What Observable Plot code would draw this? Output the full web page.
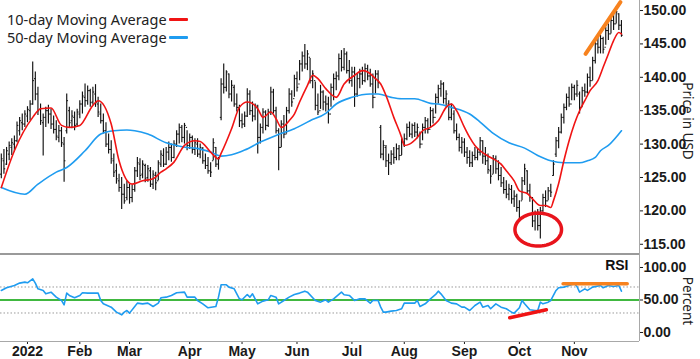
<!DOCTYPE html>
<html><head><meta charset="utf-8">
<script src="https://cdn.jsdelivr.net/npm/d3@7"></script>
<script src="https://cdn.jsdelivr.net/npm/@observablehq/plot@0.6"></script>
<style>
body{margin:0;background:#fff;}
#wrap{position:relative;width:700px;height:359px;overflow:hidden;background:#fff;}
#wrap svg{display:block;}
.leg{position:absolute;left:7px;font:14.5px "Noto Sans",sans-serif;color:#222;display:flex;align-items:center;white-space:nowrap;}
.sw{display:inline-block;width:19px;height:3px;margin-left:2px;border-radius:1px;}
.ttl{position:absolute;font:13.5px "Noto Sans",sans-serif;color:#222;transform:translate(-50%,-50%) rotate(90deg);white-space:nowrap;}
.sep{position:absolute;left:0;width:639px;height:2px;background:#9a9a9a;}
</style></head><body><div id="wrap"></div>
<script>
// ---- price data (trading-day index 0 = mid Dec 2021) ----
const high = [128.5,129.2,129.5,130.3,130.8,131.2,133.3,134,134.5,135,135.6,136.5,142.3,140.8,138.5,136,134.5,135.5,135.8,135.2,134.2,133.5,132.8,132.5,131,137.5,135.5,135,134.8,135.2,136.5,137.8,139,138.7,138.2,138.5,138.9,137,136,134.5,133.2,131.5,130.5,128.5,127,125.5,125,124,124.5,124,123.8,126.5,128,127.8,127.5,127,126.8,126.5,126,125.8,127.5,129,129.3,129.5,130.3,130,130.5,132,133,132.8,133.1,132,131.5,131.2,130.8,130.8,130,129.5,128.5,128,127.2,130.8,129.5,128,139.8,142,141,140.5,139.5,138.8,137.5,135.8,134.5,134.8,138.3,138,136.3,136,135.8,133,135.3,135,135.2,138.5,138.2,135.5,132.3,133.5,134.3,135.5,138.3,138,140.3,140.8,142.5,143.8,144.9,144,142.8,141,139.3,137.5,138.8,138,137.2,137,139,140.5,140.8,143.5,144,144.3,143.8,142.5,141.5,141.5,140.5,141.2,141.5,142,141.8,141.2,140.5,141,141,132.8,130.5,129.8,128.5,129,129.5,130,129.8,130.8,131.5,133,133.3,133,133.2,133,131.8,133,134,133.8,135.5,135.3,137.5,138.8,139.5,139.2,138,136.5,136,135,133,131.5,131,130.8,129.5,129,128.8,129.5,129.3,131,130.5,129.5,128.5,126.8,128.3,128.2,127.5,126.5,125,124.5,124,123.8,123,122.5,121.5,125,127,126,124,122,120,120.2,120.5,122.5,123,123.5,124,127.5,131,132.5,134.5,136,137.5,138.5,139,138.8,139.5,137.8,138.5,139,140.5,141.5,143,145.5,146.5,146.3,146,147.5,148,149,149.5,150.5,149.5,148.5];
const low = [124.8,125.5,126.8,127.5,128.3,128.8,130.2,131.2,132,132.5,133.2,133.5,135.8,136.5,134.3,132.8,128.2,132.5,133,132.2,131.5,130.5,130.2,129.5,124.3,131.5,132.5,132.3,132,132.5,133.8,134.5,135.5,135.8,135.5,135.8,135.5,134,133,131.5,129.5,128.5,127,125,124,122.8,120.2,121,121.5,121,121.2,122.8,125,124.5,124.8,124.2,124.3,123.5,123.2,123,124.5,126.5,126.5,126.8,127.5,127.3,127.8,129.5,130,130.2,130,129,129.2,128.5,128.3,128,127.8,127,126.2,125.5,125,127.5,126.5,126.1,133.5,137.5,137.8,136.8,136.3,135.5,134.8,132.5,132.3,132.5,134,134.3,133.3,133.5,128.5,130,131.5,132,132.5,134.3,134.5,131.5,126,129.5,130.8,131.5,134.5,135.5,137,137.8,139.5,140.8,141.2,141,139,138.3,135,134.3,135.2,135,134.8,133,135.5,136.5,138,139.5,140.8,141,140.5,139,138.5,135.5,137,138.3,138.8,139.2,139.5,138.5,135.3,137.5,138.3,127.8,127.5,126.5,125.3,126.8,127,127.5,127.5,128.3,129.5,130.5,131,130.8,131,130.8,129.3,130.5,131.5,131.5,132.5,133,134.5,136,137,136,135.5,133.5,133.5,131.5,130.5,128.8,128.5,128,127,126.5,126.5,127.5,127.5,128.2,127,126.8,125.5,124,125.5,125.5,124.5,123.5,122.5,121.8,121.5,121,120.5,119.8,118.5,121.5,123.8,122.5,121.3,117.5,117,117,115.8,119.8,120.5,121.5,122,125.2,128,129.3,131.5,133,135,135.5,136.5,136.5,137,134.5,135.5,137,137.5,138.5,139.5,142,143.5,143.5,143.5,144.8,145.5,146.5,147,148,147,146];
const open = [125.5,127.5,127,128.5,129.5,130,130.5,132,133.2,133,134.2,135,136,139.8,137.5,135.2,133.2,134,135,134.5,133,132.2,131,132,130,132,135,133.5,134,133,134.5,136,137,136.5,138,136.3,137.5,136,134.5,133.5,132,130,129.2,127.5,126,124.5,123.5,122.5,122,123.5,122,123.2,126,127,125.5,126.8,125,126,124,125.3,124.5,127,128.3,127,128.8,129.5,128,130,131.5,132.5,131,132.5,129.8,131,129.2,130,128.5,129.3,127.5,126.8,126,127.5,129.5,127,134,139,138.5,140.5,137.5,138.5,136,135.5,133.5,133,134.2,137.5,135,134.2,135.5,131,132.5,134.8,132.8,134.8,137.8,135,132,129.5,133,131.5,135,137.5,136.8,139.8,139,142,143.2,142,143,139.5,139.5,135.8,135,137.8,136.3,136,134.5,138.5,139.8,140.2,142.8,141.5,143.5,141,139.5,140.8,137.5,139.8,140.5,139.5,141.3,140.2,139,137,140.5,132.5,128.5,129.5,127.5,127.2,128.5,128,129.3,128.3,130.3,130.8,132.5,131.5,132.8,131.8,131.5,130,132.5,133.5,132.2,135,134,137,138.3,139,136.8,136,134,134.5,132,131,129.5,130.3,128.8,128,127.2,128.3,128,128.8,130.5,128.2,127.5,126,125.5,127.8,126.3,125.3,124.2,123.2,122.5,123.2,121.8,122.2,120.5,121.5,124.5,126,123,122,118.5,119.5,117.8,120,122,121.5,123,125.3,128.5,130.5,131.8,134,135.5,137,136,138.5,137.5,137.5,135.5,138,137.8,140,139.5,142.5,145,144.5,145.8,144.5,147,146.5,148.5,148,149.5,147.8];
const close = [127.8,126.3,129,129.8,130.2,130.5,132.8,133.5,133,134.5,135.2,136,139.5,137.5,135,133.5,134,135,134.5,133,132.2,131.2,132,130.2,127.5,136.5,133.2,134.2,132.8,134.8,136,137.2,136.5,138,136.2,137.8,136.2,134.8,133.5,132,130,129.2,127.8,125.8,124.8,123.5,122.5,121.5,123.5,122,123.2,126,127.2,125.3,127,124.8,126.3,124,125.5,124.2,127.2,128.5,127,128.8,129.5,128,130,131.5,132.5,131,132.8,129.8,131,129.2,130.2,128.5,129.5,127.5,126.8,126,125.8,130.2,127,127.8,139,138.5,140.8,137.5,138.8,136,135.5,133.5,133,134.2,137.5,135,134.2,135.8,131,132.5,134.8,132.8,134.8,137.8,135,132,129.5,133,131.5,135,137.5,136.3,139.8,138.5,142,143.2,142,143.5,139.5,140.5,135.8,134.8,137.8,136.3,136,134.5,138.5,139.8,140.2,142.8,141.5,143.5,141,139.5,140.8,137.5,139.8,140.5,139.5,141.3,140.2,139,137,140.5,139.2,128.5,129.8,127.5,127.2,128.5,128,129.3,128.3,130.3,130.8,132.5,131.5,132.8,131.8,132.5,130,132.5,133.5,132.2,135,134,137,138.3,139,136.8,137.5,134,135.5,132,131,129.5,130.3,128.8,128,127.2,128.3,128,128.8,130.5,128.2,127.5,126.2,125.2,127.8,126.3,125.3,124.2,123.2,122.5,123.3,121.8,122.2,120.5,119,124.5,126.3,123,122,118.5,119.5,117.8,120,122,121.5,123,122.8,127,130.5,131.8,134,135.5,137,136,138.5,137.5,138.8,135.5,138,137.8,140,139.5,142.5,145,144.5,145.8,144.2,147,146.5,148.5,148,149.8,147.8,146.3];

// ---- moving averages (day index, value) ----
const ma10Day = [0,5,12,15,19,23,26,30,35,37,42,45,50,54,58,61,63,66,70,74,76,80,83,84,88,91,94,98,100,103,105,107,110,112,114,117,119,121,124,128,131,135,138,140,143,145,147,150,153,154,156,159,161,164,167,170,172,174,177,179,181,183,187,191,193,196,198,201,203,206,208,210,211,213,215,217,219,221,223,225,228,230,232,234,236,237];
const ma10Val = [123.5,129,134,135.3,135.4,132.8,132.5,132.8,135.8,136.5,133,127.5,124,124.5,124.8,125.8,126.3,127.3,129.8,130.5,130.4,128.8,127.8,128.6,132.3,135.5,136.3,135.3,134,134.8,133.8,132.5,133.5,134.5,136.3,138.8,140.3,139.8,138.3,137,139,140.3,141,140.8,139.8,139,137.3,134,131,129.8,130,131,132,132.5,133.5,135.5,136,135,132.5,131,129.8,129,128,127,126,124.5,123,122.6,121.8,120.8,120.8,120.5,121.5,124.1,127.5,130.5,133,135,136.5,138,139.5,141.5,143.5,145.5,146.7,146.5];
const ma50Day = [0,9,14,21,25,32,38,43,48,51,56,63,67,71,74,80,84,88,93,99,105,112,118,124,128,134,141,144,149,153,158,164,167,172,179,183,188,194,200,205,210,215,221,224,227,229,232,237];
const ma50Val = [123.5,122.5,124,125.8,126.5,129,131.5,132,132.1,132,131.5,130.2,129.8,129.5,129.4,128.8,128.2,128.4,129.1,130.3,131.3,132.3,133.5,134.6,136,137,137.5,137.5,137,136.8,136.8,136.1,136,135.5,134.5,133.3,131.6,130.2,129.4,128.3,127.5,127.2,127.2,127.5,128,129,129.8,132];

// ---- RSI ----
const rsiDay = [0,2,5,7,9,10,12,13,14,16,17,19,21,23,24,25,26,28,30,31,33,35,37,38,39,42,44,46,47,48,49,51,52,54,56,58,60,61,63,65,67,70,71,74,75,77,79,82,83,84,86,87,89,91,92,94,95,96,98,100,102,103,105,106,108,110,112,114,116,117,120,122,124,125,127,130,131,133,135,137,139,141,142,144,145,146,147,149,151,153,154,156,158,159,160,162,164,166,167,168,170,172,174,176,177,179,181,183,184,186,187,189,191,193,195,196,198,199,200,202,204,205,206,207,209,210,212,213,215,217,219,220,221,223,224,226,229,230,232,234,236,237];
const rsiVal = [64.7,68.8,72.3,76,77.5,76.5,82.6,76,67.2,64.7,59.5,62,54.4,49.3,42.6,60.6,57,53.4,57,61.1,60.6,60.6,60.6,49.3,44.1,39,31.3,27.2,31.3,33.9,29.8,40,45.2,44.1,45.2,40,45.2,53.4,54.4,57,61.1,62.1,54.4,54.4,49.3,44.1,38,40,54.4,73.4,73.4,69.8,67.2,51.8,50.3,58.5,54.4,59.5,44.1,48.3,50.3,57,54.4,44.1,49.3,54.4,58.5,60.6,63.6,62.1,49.3,46.7,50.3,46.7,51.8,62.1,58,57,49.3,51.8,51.8,45.2,49.3,49.3,39,31.3,31.3,32.9,33.9,36.5,45.2,45.2,45.2,49.3,40,44.1,51.8,58.5,63.6,59.5,49.3,45.2,44.1,39,39,33.9,41.6,46.7,39,41.6,36.5,44.1,39,36.5,31.3,29.8,38,49.3,44.1,35,33.9,33.9,46.7,44.1,46.7,49.3,64.7,68.8,69.8,72.3,74.9,70.8,62.1,67.2,64.7,69.8,72.3,68.8,72.3,70.8,72.3,63.6];

// ---- axes ----
const priceTicks = [115,120,125,130,135,140,145,150];
const rsiTicks = [0,50,100];
const rsiLevels = [30,70];
const rsiMid = 50;
const monthDay = [10,30,49,72,92,113,134,154,177,198,219];
const monthLabel = ["2022","Feb","Mar","Apr","May","Jun","Jul","Aug","Sep","Oct","Nov"];

// ---- annotations (data units) ----
const priceTrendDay = [223.3,236.6], priceTrendVal = [143.5,151.25];
const rsiLowDay = [194.3,208.3], rsiLowVal = [22.6,34.9];
const rsiHighDay = [214.7,239.2], rsiHighVal = [74.9,74.9];
const ring = {day:205.2, price:117.2, rDay:8.9, rPrice:2.47};

const RED = "#f01414", BLUE = "#1f9cf0", ORANGE = "#f7821e", INK = "#111";
const xDomain = [-0.31, 243.9];

const bars = close.map((c,i) => ({i, o:open[i], h:high[i], l:low[i], c}));
const pairs = (a,b) => a.map((d,k)=>({d, v:b[k]}));
const ringPts = d3.range(0, 361, 5).map(a => ({d: ring.day + ring.rDay*Math.cos(a*Math.PI/180), v: ring.price + ring.rPrice*Math.sin(a*Math.PI/180)}));

const axisStyle = {fontFamily:"'Liberation Sans', Arial, sans-serif", fontSize:"14px", fontWeight:"bold", color:"#1a1a1a", background:"transparent"};

const main = Plot.plot({
  width:700, height:254, marginLeft:0, marginRight:61, marginTop:0, marginBottom:0,
  style: axisStyle,
  x:{domain:xDomain, axis:null},
  y:{domain:[113.47,151.5], axis:"right", ticks:priceTicks, tickFormat:d=>d.toFixed(2), tickSize:3, tickPadding:1, label:null},
  marks:[
    Plot.ruleX([xDomain[1]], {stroke:"#a8a8a8"}),
    Plot.ruleX(bars, {x:"i", y1:"l", y2:"h", stroke:INK, strokeWidth:1.15}),
    Plot.link(bars, {x1:d=>d.i-0.5, x2:"i", y1:"o", y2:"o", stroke:INK}),
    Plot.link(bars, {x1:"i", x2:d=>d.i+0.5, y1:"c", y2:"c", stroke:INK}),
    Plot.line(pairs(ma50Day, ma50Val), {x:"d", y:"v", stroke:BLUE, strokeWidth:1.6, curve:"monotone-x"}),
    Plot.line(pairs(ma10Day, ma10Val), {x:"d", y:"v", stroke:RED, strokeWidth:1.6, curve:"monotone-x"}),
    Plot.line(pairs(priceTrendDay, priceTrendVal), {x:"d", y:"v", stroke:ORANGE, strokeWidth:4}),
    Plot.line(ringPts, {x:"d", y:"v", stroke:"#e8141c", strokeWidth:3.5})
  ]
});

const rsi = Plot.plot({
  width:700, height:105, marginLeft:0, marginRight:61, marginTop:0, marginBottom:18,
  style: axisStyle,
  x:{domain:xDomain, ticks:monthDay, tickFormat:d=>monthLabel[monthDay.indexOf(d)], tickSize:3, tickPadding:2, label:null},
  y:{domain:[-13.85,120], axis:"right", ticks:rsiTicks, tickFormat:d=>d.toFixed(2), tickSize:3, tickPadding:1, label:null},
  marks:[
    Plot.ruleY(rsiLevels, {stroke:"#9a9a9a", strokeDasharray:"1.5,2"}),
    Plot.ruleY([rsiMid], {stroke:"#00a000", strokeWidth:1.6}),
    Plot.ruleY([-13.85], {stroke:"#a8a8a8"}),
    Plot.ruleX([xDomain[1]], {stroke:"#a8a8a8"}),
    Plot.line(pairs(rsiDay, rsiVal), {x:"d", y:"v", stroke:BLUE, strokeWidth:1.6}),
    Plot.line(pairs(rsiLowDay, rsiLowVal), {x:"d", y:"v", stroke:RED, strokeWidth:3.5}),
    Plot.line(pairs(rsiHighDay, rsiHighVal), {x:"d", y:"v", stroke:ORANGE, strokeWidth:3.5}),
    Plot.text(["RSI"], {frameAnchor:"top-right", dx:-11, dy:11, lineAnchor:"middle", textAnchor:"end", fill:"#111", fontSize:14, fontWeight:"bold"})
  ]
});

const wrap = document.getElementById("wrap");
wrap.appendChild(main);
wrap.appendChild(rsi);

const sep = document.createElement("div"); sep.className="sep"; sep.style.top="253px"; wrap.appendChild(sep);

const legendItems = [["10-day Moving Average", RED, 19], ["50-day Moving Average", BLUE, 37]];
for (const [t,c,y] of legendItems) {
  const d = document.createElement("div"); d.className="leg"; d.style.top=(y-10)+"px";
  d.innerHTML = `<span>${t}</span><span class="sw" style="background:${c}"></span>`;
  wrap.appendChild(d);
}
const titles = [["Price in USD", 688, 121], ["Percent", 688, 301]];
for (const [t,x,y] of titles) {
  const d = document.createElement("div"); d.className="ttl"; d.textContent=t;
  d.style.left=x+"px"; d.style.top=y+"px"; wrap.appendChild(d);
}
</script></body></html>
